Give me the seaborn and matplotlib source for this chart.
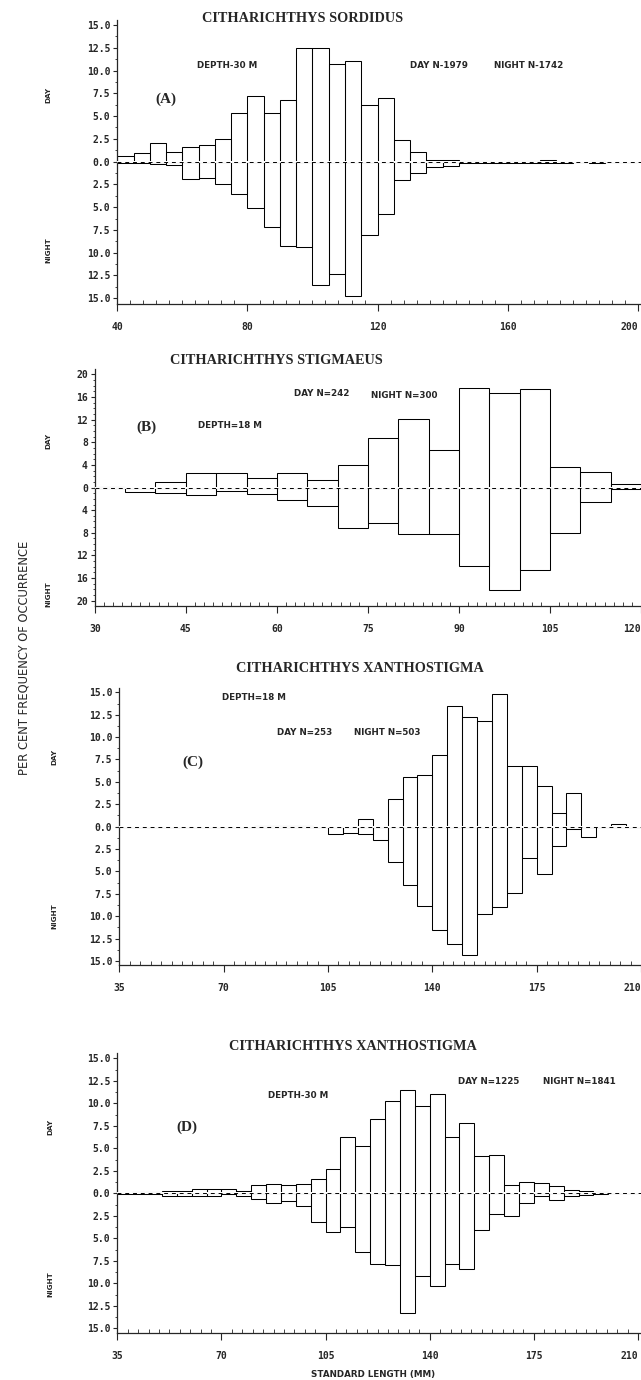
import numpy as np
import pandas as pd
import seaborn as sns
import matplotlib.pyplot as plt
from matplotlib.ticker import FixedLocator, MultipleLocator, FuncFormatter

# (A) C. sordidus, 30 m -- 5 mm bins from 40
a_edges = np.arange(40, 205, 5)
a_day = [0.65, 1.0, 2.1, 1.1, 1.6, 1.8, 2.5, 5.3, 7.2, 5.3, 6.8, 12.5, 12.5, 10.7, 11.1, 6.2,
         7.0, 2.4, 1.1, 0.2, 0.2, 0.1, 0.1, 0.0, 0.05, 0.1, 0.2, 0.0, 0.0, 0.1, 0.0, 0.0]
a_night = [0.1, 0.1, 0.25, 0.35, 1.9, 1.8, 2.5, 3.5, 5.1, 7.2, 9.3, 9.4, 13.5, 12.3, 14.8, 8.1,
           5.7, 2.0, 1.3, 0.6, 0.5, 0.1, 0.1, 0.1, 0.1, 0.1, 0.1, 0.1, 0.0, 0.1, 0.0, 0.0]

# (B) C. stigmaeus, 18 m -- 5 mm bins from 30
b_edges = np.arange(30, 125, 5)
b_day = [0.1, 0.0, 0.9, 2.6, 2.6, 1.7, 2.6, 1.4, 3.9, 8.8, 12.2, 6.7, 17.6, 16.7, 17.5, 3.6, 2.8, 0.7]
b_night = [0.1, 0.8, 1.0, 1.4, 0.7, 1.2, 2.2, 3.3, 7.1, 6.2, 8.2, 8.2, 13.9, 18.2, 14.6, 8.1, 2.6, 0.3]

# (C) C. xanthostigma, 18 m -- 5 mm bins from 35
c_edges = np.arange(35, 215, 5)
c_day = [0, 0, 0, 0, 0, 0, 0, 0, 0, 0.1, 0.1, 0.1, 0.1, 0, 0, 0, 0.8, 0.0, 3.1, 5.5, 5.8, 8.0,
         13.5, 12.3, 11.8, 14.8, 6.8, 6.8, 4.5, 1.5, 3.8, 0.0, 0.0, 0.3, 0.0]
c_night = [0, 0, 0, 0, 0, 0, 0, 0, 0, 0, 0, 0, 0, 0, 0.8, 0.7, 0.85, 1.5, 4.0, 6.5, 8.9, 11.5,
           13.1, 14.3, 9.8, 9.0, 7.4, 3.5, 5.3, 2.2, 0.3, 1.1, 0.0, 0.0, 0.0]

# (D) C. xanthostigma, 30 m -- 5 mm bins from 35
d_edges = np.arange(35, 215, 5)
d_day = [0.05, 0.1, 0.1, 0.2, 0.2, 0.5, 0.5, 0.5, 0.3, 0.9, 1.0, 0.9, 1.0, 1.6, 2.7, 6.3, 5.3,
         8.2, 10.3, 11.5, 9.7, 11.0, 6.3, 7.8, 4.1, 4.2, 0.9, 1.3, 1.1, 0.8, 0.4, 0.2, 0.1, 0.0, 0.0]
d_night = [0.05, 0.1, 0.1, 0.25, 0.25, 0.25, 0.25, 0.1, 0.3, 0.6, 1.1, 0.9, 1.4, 3.2, 4.3, 3.8,
           6.5, 7.9, 8.0, 13.3, 9.2, 10.3, 7.9, 8.4, 4.1, 2.3, 2.5, 1.1, 0.3, 0.7, 0.3, 0.2, 0.1, 0.0, 0.0]

a_xticks = [40, 80, 120, 160, 200]
b_xticks = [30, 45, 60, 75, 90, 105, 120]
cd_xticks = [35, 70, 105, 140, 175, 210]
ab_yticks = np.arange(-15, 15.1, 2.5)
b_yticks = np.arange(-20, 21, 4)

W, H = 641, 1380

sns.set_style("ticks")
plt.rcParams["font.family"] = ["DejaVu Sans"]

fig = plt.figure(figsize=(W / 100, H / 100), dpi=100)


def fx(x):
    return x / W


def fy(y):
    return 1 - y / H


def draw_panel(left, top, bottom, edges, day, night, xlim, ylim, xticks, xminor,
               yticks, yminor, yfmt):
    ax = fig.add_axes([fx(left), fy(bottom), 1 - fx(left), (bottom - top) / H])
    frame = pd.DataFrame({"length": edges[:-1] + 2.5,
                          "day": day,
                          "night": -np.asarray(night, dtype=float)})
    for col in ("day", "night"):
        sns.histplot(data=frame, x="length", weights=col, bins=list(edges), fill=False,
                     color="black", linewidth=0.75, ax=ax)
    # blank out the bar edges on the baseline, then the dashed zero line
    ax.axhline(0, color="white", lw=1.4, zorder=3)
    ax.axhline(0, color="black", lw=0.7, ls=(0, (4, 4)), zorder=4)
    ax.set_xlim(*xlim)
    ax.set_ylim(*ylim)
    ax.xaxis.set_major_locator(FixedLocator(xticks))
    ax.xaxis.set_minor_locator(MultipleLocator(xminor))
    ax.yaxis.set_major_locator(FixedLocator(yticks))
    ax.yaxis.set_minor_locator(MultipleLocator(yminor))
    ax.yaxis.set_major_formatter(FuncFormatter(lambda v, _: yfmt.format(abs(v))))
    ax.set_xlabel("")
    ax.set_ylabel("")
    sns.despine(ax=ax)
    ax.tick_params(axis="x", which="major", direction="out", length=5, width=0.8, pad=8,
                   labelsize=7)
    ax.tick_params(axis="x", which="minor", direction="in", length=3, width=0.6)
    ax.tick_params(axis="y", which="major", direction="out", length=3, width=0.8, pad=2,
                   labelsize=7)
    ax.tick_params(axis="y", which="minor", direction="out", length=1.5, width=0.6)
    for sp in ax.spines.values():
        sp.set_linewidth(0.9)
    for lbl in ax.get_xticklabels() + ax.get_yticklabels():
        lbl.set_fontfamily("DejaVu Sans Mono")
        lbl.set_fontweight("bold")
    ax.get_xticklabels()[-1].set_horizontalalignment("right")
    return ax


draw_panel(117.3, 20, 304, a_edges, a_day, a_night, (40, 201), (-15.63, 15.55),
           a_xticks, 4, ab_yticks, 1.25, "{:.1f}")
draw_panel(94.8, 369.3, 606, b_edges, b_day, b_night, (30, 120), (-20.94, 20.9),
           b_xticks, 1.5, b_yticks, 1, "{:.0f}")
draw_panel(119.4, 688.3, 965, c_edges, c_day, c_night, (35, 210), (-15.45, 15.45),
           cd_xticks, 3.5, ab_yticks, 1.25, "{:.1f}")
draw_panel(117.3, 1052.7, 1333.3, d_edges, d_day, d_night, (35, 211), (-15.56, 15.62),
           cd_xticks, 3.5, ab_yticks, 1.25, "{:.1f}")

title_kw = dict(family="Liberation Serif", weight="bold", size=10.3, ha="center", va="center")
fig.text(fx(302.5), fy(18), "CITHARICHTHYS SORDIDUS", **title_kw)
fig.text(fx(276), fy(360), "CITHARICHTHYS STIGMAEUS", **title_kw)
fig.text(fx(360), fy(668), "CITHARICHTHYS XANTHOSTIGMA", **title_kw)
fig.text(fx(353), fy(1047), "CITHARICHTHYS XANTHOSTIGMA", **title_kw)

note_kw = dict(weight="bold", size=6.3, ha="left", va="center")
notes = [("DEPTH-30 M", 197, 65), ("DAY N-1979", 410, 65), ("NIGHT N-1742", 494, 66),
         ("DAY N=242", 294, 394), ("NIGHT N=300", 371, 396), ("DEPTH=18 M", 198, 425),
         ("DEPTH=18 M", 222, 697), ("DAY N=253", 277, 732), ("NIGHT N=503", 354, 732),
         ("DAY N=1225", 458, 1081), ("NIGHT N=1841", 543, 1082), ("DEPTH-30 M", 268, 1096)]
for s, x, y in notes:
    fig.text(fx(x), fy(y), s, **note_kw)

tag_kw = dict(family="Liberation Serif", weight="bold", size=11, ha="center", va="center")
for s, x, y in [("(A)", 166, 99), ("(B)", 146, 427), ("(C)", 193, 762), ("(D)", 187, 1127)]:
    fig.text(fx(x), fy(y), s, **tag_kw)

side_kw = dict(weight="bold", size=5.2, ha="center", va="center", rotation=90)
for x, yd, yn in [(48, 95, 250), (48, 441, 594), (54, 757, 916), (50, 1127, 1284)]:
    fig.text(fx(x), fy(yd), "DAY", **side_kw)
    fig.text(fx(x), fy(yn), "NIGHT", **side_kw)

fig.text(fx(24.5), fy(658), "PER CENT FREQUENCY OF OCCURRENCE", size=8.3, rotation=90,
         ha="center", va="center")
fig.text(fx(373), fy(1374), "STANDARD LENGTH (MM)", weight="bold", size=6.3,
         ha="center", va="center")

fig.savefig("out.png", dpi=100)
